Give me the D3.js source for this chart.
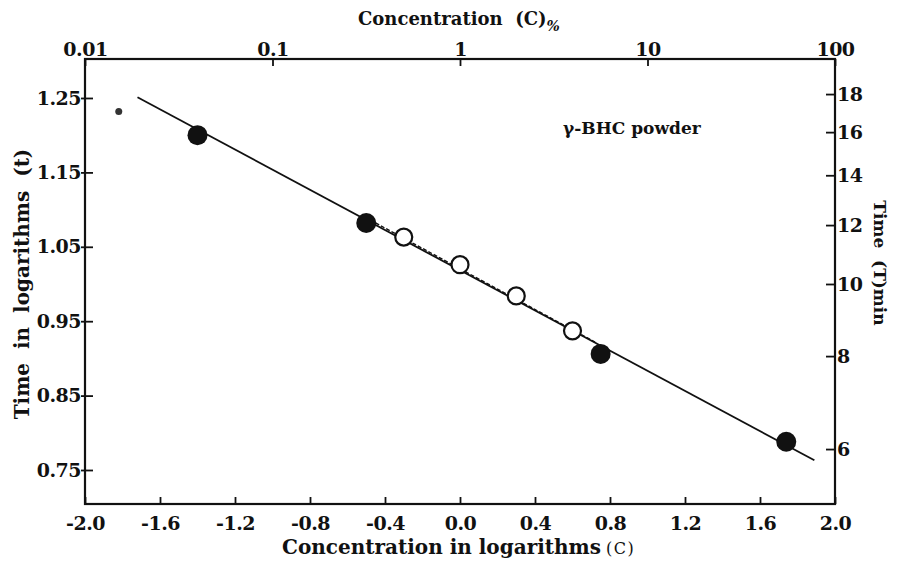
<!DOCTYPE html>
<html><head><meta charset="utf-8">
<script src="https://cdn.jsdelivr.net/npm/d3@7/dist/d3.min.js"></script>
<style>
html,body{margin:0;padding:0;background:#fff;}
svg text{font-family:"DejaVu Serif",serif;font-weight:bold;fill:#111;white-space:pre;}
</style></head>
<body><svg id="c" width="898" height="561"></svg>
<script>
// ---- data ----
const bottomTicks = [-2.0,-1.6,-1.2,-0.8,-0.4,0.0,0.4,0.8,1.2,1.6,2.0];
const bottomLabels = ["-2.0","-1.6","-1.2","-0.8","-0.4","0.0","0.4","0.8","1.2","1.6","2.0"];
const leftTicks = [0.75,0.85,0.95,1.05,1.15,1.25];
const topTicks = [0.01,0.1,1,10,100];
const topLabels = ["0.01","0.1","1","10","100"];
const rightTicks = [6,8,10,12,14,16,18];
// filled circles (log C, log t)
const filledX = [-1.40,-0.50,0.75,1.74];
const filledY = [1.200,1.082,0.906,0.788];
// open circles
const openX = [-0.30,0.00,0.30,0.60];
const openY = [1.063,1.026,0.984,0.937];
// regression lines
const solidLineX = [-1.72,1.89];
const solidLineY = [1.251,0.763];
const dashedLineX = [-0.45,0.72];
const dashedLineY = [1.082,0.922];
// scan speck
const speckX = [-1.82], speckY = [1.232];

const svg = d3.select("#c");
const L=85,R=835,T=59,B=504;
const x = d3.scaleLinear().domain([-2,2]).range([L,R]);
const yMin=0.7043,yMax=1.3024;
const y = d3.scaleLinear().domain([yMin,yMax]).range([B,T]);
const xTop = d3.scaleLog().domain([0.01,100]).range([L,R]);
const yRight = d3.scaleLog().domain([Math.pow(10,yMin),Math.pow(10,yMax)]).range([B,T]);

// frame
svg.append("rect").attr("x",L).attr("y",T).attr("width",R-L).attr("height",B-T)
  .attr("fill","none").attr("stroke","#111").attr("stroke-width",2.2);

// bottom axis
const gb = svg.append("g").attr("transform",`translate(0,${B})`)
  .call(d3.axisBottom(x).tickValues(bottomTicks).tickSizeInner(-7).tickSizeOuter(0).tickPadding(13)
  .tickFormat((d,i)=>bottomLabels[i]));
// left axis
const gl = svg.append("g").attr("transform",`translate(${L},0)`)
  .call(d3.axisLeft(y).tickValues(leftTicks).tickSizeInner(-8).tickSizeOuter(0).tickPadding(4)
  .tickFormat(d3.format(".2f")));
// top axis
const gt = svg.append("g").attr("transform",`translate(0,${T})`)
  .call(d3.axisTop(xTop).tickValues(topTicks).tickSizeInner(-7).tickSizeOuter(0).tickPadding(3)
  .tickFormat((d,i)=>topLabels[i]));
// right axis
const gr = svg.append("g").attr("transform",`translate(${R},0)`)
  .call(d3.axisRight(yRight).tickValues(rightTicks).tickSizeInner(-9).tickSizeOuter(0).tickPadding(3)
  .tickFormat(d3.format("d")));

[gb,gl,gt,gr].forEach(g=>{
  g.select(".domain").remove();
  g.selectAll(".tick line").attr("stroke","#111").attr("stroke-width",1.8);
  g.selectAll(".tick text").style("font-family","'DejaVu Serif',serif").style("font-weight","bold")
    .style("font-size","19px").style("letter-spacing","-0.5px").attr("fill","#111");
});
gl.selectAll(".tick line").attr("x1",-4);
gr.selectAll(".tick text").attr("x",2);

// lines
const line = d3.line().x(d=>x(d[0])).y(d=>y(d[1]));
svg.append("path").datum(solidLineX.map((v,i)=>[v,solidLineY[i]]))
  .attr("d",line).attr("stroke","#111").attr("stroke-width",1.8).attr("fill","none");
svg.append("path").datum(dashedLineX.map((v,i)=>[v,dashedLineY[i]]))
  .attr("d",line).attr("stroke","#111").attr("stroke-width",1.4).attr("stroke-dasharray","4,2").attr("fill","none");

// points
svg.selectAll(".f").data(filledX.map((v,i)=>[v,filledY[i]])).enter().append("circle")
  .attr("cx",d=>x(d[0])).attr("cy",d=>y(d[1])).attr("r",10).attr("fill","#111");
svg.selectAll(".o").data(openX.map((v,i)=>[v,openY[i]])).enter().append("circle")
  .attr("cx",d=>x(d[0])).attr("cy",d=>y(d[1])).attr("r",8.5).attr("fill","#fff")
  .attr("stroke","#111").attr("stroke-width",2.2);
svg.selectAll(".s").data(speckX.map((v,i)=>[v,speckY[i]])).enter().append("circle")
  .attr("cx",d=>x(d[0])).attr("cy",d=>y(d[1])).attr("r",3.5).attr("fill","#333");

// labels
svg.append("text").attr("x",563).attr("y",134).style("font-size","17px").text("γ-BHC powder");
const tt = svg.append("text").attr("x",358).attr("y",25).style("font-size","18px");
tt.append("tspan").text("Concentration  (C)");
tt.append("tspan").attr("dy",6).style("font-size","14px").style("font-style","italic").text("%");
const bt = svg.append("text").attr("x",282).attr("y",554).style("font-size","20px");
bt.append("tspan").text("Concentration in logarithms");
bt.append("tspan").attr("dx",5).style("font-weight","normal").style("font-size","16px").style("letter-spacing","1.5px").text("(C)");
svg.append("text").attr("transform","translate(29,284) rotate(-90)").attr("text-anchor","middle")
  .style("font-size","20px").text("Time  in  logarithms  (t)");
svg.append("text").attr("transform","translate(874,263) rotate(90)").attr("text-anchor","middle")
  .style("font-size","17px").text("Time  (T)min");
</script></body></html>
